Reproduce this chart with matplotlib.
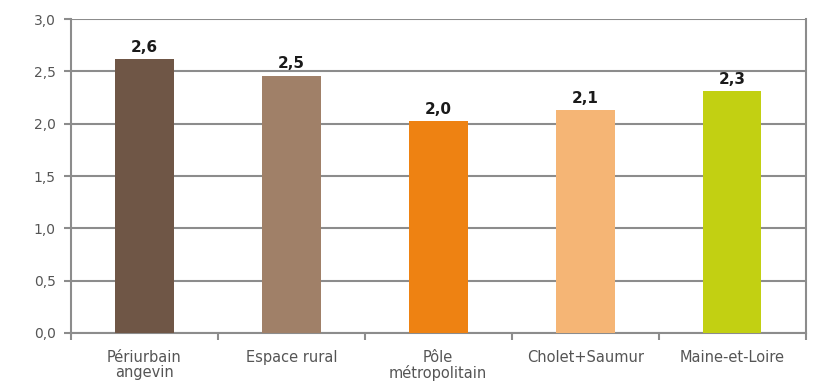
import matplotlib
matplotlib.use("Agg")
import matplotlib.pyplot as plt
import numpy as np

categories = ["Périurbain\nangevin", "Espace rural", "Pôle\nmétropolitain", "Cholet+Saumur", "Maine-et-Loire"]
values = [2.62, 2.46, 2.025, 2.13, 2.31]
labels = ["2,6", "2,5", "2,0", "2,1", "2,3"]
colors = ["#6F5646", "#A08068", "#EE8212", "#F5B575", "#C2D012"]
yticks = [0.0, 0.5, 1.0, 1.5, 2.0, 2.5, 3.0]
ytick_labels = ["0,0", "0,5", "1,0", "1,5", "2,0", "2,5", "3,0"]

plt.rcParams['font.family'] = ['DejaVu Sans']
fig = plt.figure(figsize=(8.3, 3.81), dpi=100)
ax = fig.add_axes([0.0855, 0.126, 0.885, 0.824])

x = np.arange(len(categories))
grid_c = "#8C8C8C"
ax.bar(x, values, width=0.4, color=colors, zorder=3)
for xi, v, lab in zip(x, values, labels):
    ax.text(xi, v + 0.04, lab, ha="center", va="bottom", fontsize=11,
            fontweight="bold", color="#1a1a1a", zorder=4)

ax.set_xlim(-0.5, len(categories) - 0.5)
ax.set_ylim(0, 3.0)
ax.set_yticks(yticks)
ax.set_yticklabels(ytick_labels, fontsize=10, color="#555555")
ax.set_xticks(x)
ax.set_xticklabels(categories, fontsize=10.5, color="#555555", linespacing=1.05)
ax.set_xticks(np.arange(-0.5, len(categories)), minor=True)
ax.tick_params(axis="x", which="major", length=0, pad=12)
ax.tick_params(axis="x", which="minor", length=5, width=1.5, color=grid_c, direction="out")
ax.tick_params(axis="y", which="major", length=5, width=1.5, color=grid_c, pad=6)

ax.yaxis.grid(True, color=grid_c, linewidth=1.5, zorder=0)
ax.set_axisbelow(True)
for s in ["left", "right", "bottom"]:
    ax.spines[s].set_color(grid_c)
    ax.spines[s].set_linewidth(1.5)
ax.spines["top"].set_visible(False)

fig.savefig("out.png", dpi=100)
